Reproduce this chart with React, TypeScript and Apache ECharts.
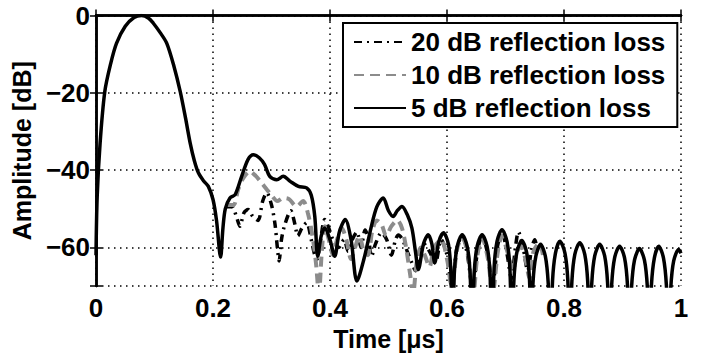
import React, { useEffect, useRef } from "react";
import * as echarts from "echarts";

const legendNames = ["20 dB reflection loss", "10 dB reflection loss", "5 dB reflection loss"];
const xLabel = "Time [μs]";
const yLabel = "Amplitude [dB]";

const loss5dB: [number, number][] = [
  [0, -62], [0.002, -47], [0.007, -33], [0.015, -19.7], [0.025, -12.5], [0.035, -7.2], [0.05, -2.8],
  [0.065, -0.5], [0.078, 0], [0.09, -0.7], [0.098, -2], [0.11, -4.5], [0.121, -7.2], [0.133, -13],
  [0.144, -19.7], [0.153, -26.5], [0.161, -33], [0.168, -37.5], [0.175, -40.7], [0.184, -42.8],
  [0.192, -44.2], [0.2, -47.6], [0.206, -53], [0.213, -62.5], [0.217, -55], [0.221, -50],
  [0.229, -47.2], [0.238, -46.3], [0.249, -41.6], [0.26, -37.2], [0.269, -36], [0.279, -36.8],
  [0.288, -38.5], [0.297, -41.6], [0.309, -42.5], [0.32, -41.6], [0.332, -42.9], [0.346, -44.2],
  [0.36, -44.6], [0.368, -46.5], [0.374, -52], [0.379, -62.3], [0.385, -57], [0.391, -55],
  [0.4, -58], [0.408, -62.3], [0.416, -56], [0.426, -52.8], [0.436, -58], [0.446, -68.7],
  [0.458, -63], [0.47, -55], [0.48, -49.5], [0.491, -47.2], [0.5, -50.5], [0.508, -52],
  [0.515, -50.5], [0.523, -49.4], [0.532, -51.5], [0.54, -55], [0.546, -61], [0.551, -65.7],
  [0.56, -59], [0.568, -56.7], [0.574, -59], [0.579, -64], [0.586, -58.5], [0.594, -56.2],
  [0.6025, -59.2], [0.6065, -66], [0.61, -85],
  [0.6125, -66.7], [0.6175, -59.7], [0.626, -56.7], [0.6345, -59.7], [0.6395, -66.7], [0.643, -85],
  [0.6465, -66.7], [0.6515, -59.7], [0.66, -56.7], [0.6685, -59.7], [0.6735, -66.7], [0.677, -85],
  [0.6805, -65.4], [0.6855, -58.4], [0.694, -55.4], [0.7025, -58.4], [0.7075, -65.4], [0.711, -85],
  [0.7145, -68.2], [0.7195, -61.2], [0.728, -58.2], [0.736, -61.2], [0.741, -68.2], [0.744, -85],
  [0.747, -69.2], [0.752, -62.2], [0.76, -59.2], [0.768, -62.2], [0.773, -69.2], [0.777, -85],
  [0.7805, -68.4], [0.7855, -61.4], [0.793, -58.4], [0.8015, -61.4], [0.8065, -68.4], [0.81, -85],
  [0.8135, -68.8], [0.8185, -61.8], [0.827, -58.8], [0.8355, -61.8], [0.8405, -68.8], [0.844, -85],
  [0.8475, -69.2], [0.8525, -62.2], [0.861, -59.2], [0.8695, -62.2], [0.8745, -69.2], [0.878, -85],
  [0.8815, -69.7], [0.8865, -62.7], [0.895, -59.7], [0.9035, -62.7], [0.9085, -69.7], [0.912, -85],
  [0.9155, -70.3], [0.9205, -63.3], [0.929, -60.3], [0.9375, -63.3], [0.9425, -70.3], [0.946, -85],
  [0.9495, -69.7], [0.9545, -62.7], [0.962, -59.7], [0.97, -62.7], [0.975, -69.7], [0.979, -85],
  [0.9825, -70.5], [0.9875, -63.5], [0.996, -60.5], [1.0, -61.5],
];

const loss10dB: [number, number][] = [
  [0.224, -49], [0.235, -49], [0.243, -45], [0.252, -42], [0.263, -40.3], [0.273, -41.5],
  [0.283, -43.3], [0.292, -45], [0.3, -46.5], [0.31, -48], [0.32, -47.2], [0.33, -47.5],
  [0.343, -49.4], [0.354, -48], [0.362, -51], [0.37, -57], [0.376, -64], [0.381, -72],
  [0.386, -61], [0.391, -54.5], [0.398, -58], [0.405, -62], [0.412, -58], [0.42, -55],
  [0.428, -58], [0.436, -63], [0.443, -60], [0.45, -57], [0.458, -61], [0.465, -62],
  [0.472, -56], [0.48, -53], [0.488, -54], [0.496, -57], [0.505, -54.5], [0.515, -53],
  [0.523, -55], [0.53, -60], [0.537, -67], [0.542, -72], [0.548, -64], [0.555, -60],
  [0.562, -62], [0.57, -65], [0.578, -60], [0.59, -58], [0.6, -63], [0.608, -70],
  [0.618, -60], [0.626, -57.5], [0.636, -62], [0.645, -72], [0.652, -62], [0.66, -57.5],
  [0.67, -63], [0.678, -72], [0.687, -61], [0.694, -57], [0.703, -61], [0.713, -66],
  [0.72, -61], [0.727, -59.7], [0.734, -63], [0.741, -68], [0.748, -61], [0.758, -58.8],
  [0.764, -62],
];

const loss20dB: [number, number][] = [
  [0.222, -49.5], [0.232, -49.4], [0.24, -52], [0.246, -54.5], [0.253, -51], [0.26, -50.2],
  [0.268, -52], [0.277, -53], [0.285, -48], [0.292, -45.9], [0.3, -49], [0.306, -54],
  [0.31, -60], [0.313, -63.5], [0.317, -58], [0.322, -54.5], [0.333, -50.5], [0.34, -54],
  [0.345, -57], [0.352, -55], [0.36, -53.6], [0.368, -58], [0.374, -62], [0.378, -63],
  [0.383, -59], [0.391, -52.8], [0.398, -55], [0.405, -58], [0.415, -60], [0.424, -58],
  [0.431, -61], [0.438, -58], [0.446, -56], [0.453, -60], [0.46, -55.5], [0.466, -58],
  [0.471, -62.3], [0.478, -59], [0.488, -56.2], [0.497, -58], [0.505, -62], [0.512, -58],
  [0.517, -56.8], [0.524, -58], [0.532, -61], [0.54, -64], [0.546, -66], [0.552, -62],
  [0.56, -59], [0.57, -61], [0.58, -64], [0.59, -58], [0.6, -62], [0.608, -70],
  [0.617, -60], [0.626, -57], [0.635, -62], [0.644, -71], [0.652, -61], [0.66, -57],
  [0.67, -62], [0.678, -70], [0.686, -60], [0.694, -56], [0.703, -62], [0.71, -68],
  [0.717, -60], [0.722, -56], [0.73, -60], [0.738, -66], [0.745, -60], [0.75, -58], [0.755, -62],
];

const xRange = [0, 1];
const yRange = [-70, 0];

const FONT = "'Liberation Sans', Arial, Helvetica, sans-serif";

export default function App() {
  const ref = useRef<HTMLDivElement>(null);
  useEffect(() => {
    if (!ref.current) return;
    const chart = echarts.init(ref.current, undefined, { renderer: "svg" });
    const axisLine = { show: true, lineStyle: { color: "#000", width: 2.5 } };
    const tick = { show: true, inside: true, length: 6, lineStyle: { color: "#000", width: 1.5 } };
    const grid = { show: true, lineStyle: { color: "#000", width: 1.5, type: [1.5, 4.5] as any } };
    const labelStyle = { color: "#000", fontFamily: FONT, fontWeight: "bold" as const, fontSize: 26 };
    const fmt = (v: number) => {
      const r = Math.round(v * 10) / 10;
      if (r === -70) return "";
      return String(r).replace("-", "\u2212");
    };
    chart.setOption({
      animation: false,
      backgroundColor: "#fff",
      textStyle: { fontFamily: FONT },
      grid: { left: 96, right: 23, top: 15.5, bottom: 69, containLabel: false },
      legend: {
        data: legendNames,
        orient: "vertical",
        left: 343,
        top: 23,
        itemWidth: 52,
        itemHeight: 14,
        itemGap: 7,
        padding: [6, 12, 6, 10],
        backgroundColor: "#fff",
        borderColor: "#000",
        borderWidth: 2,
        borderRadius: 0,
        itemStyle: { opacity: 0, borderWidth: 0 },
        textStyle: { color: "#000", fontFamily: FONT, fontWeight: "bold", fontSize: 26 },
      },
      xAxis: [
        {
          type: "value", min: xRange[0], max: xRange[1], interval: 0.2,
          axisLine, axisTick: tick, splitLine: grid,
          axisLabel: { ...labelStyle, margin: 9, formatter: fmt },
          name: xLabel, nameLocation: "middle", nameGap: 33,
          nameTextStyle: { ...labelStyle, fontSize: 25 },
        },
        {
          type: "value", position: "top", min: xRange[0], max: xRange[1], interval: 0.2,
          axisLine, axisTick: tick, splitLine: { show: false }, axisLabel: { show: false },
        },
      ],
      yAxis: [
        {
          type: "value", min: yRange[0], max: yRange[1], splitNumber: 4,
          axisLine, axisTick: tick, splitLine: grid,
          axisLabel: { ...labelStyle, margin: 6, formatter: fmt },
          name: yLabel, nameLocation: "middle", nameGap: 54,
          nameTextStyle: { ...labelStyle, fontSize: 25 },
        },
        {
          type: "value", position: "right", min: yRange[0], max: yRange[1], splitNumber: 4,
          axisLine, axisTick: tick, splitLine: { show: false }, axisLabel: { show: false },
        },
      ],
      series: [
        {
          name: legendNames[0], type: "line", data: loss20dB, showSymbol: false, symbol: "none",
          smooth: 0.3, clip: true,
          lineStyle: { color: "#000", width: 3.5, type: [8, 5, 2, 5] },
          itemStyle: { color: "#000" },
        },
        {
          name: legendNames[1], type: "line", data: loss10dB, showSymbol: false, symbol: "none",
          smooth: 0.3, clip: true,
          lineStyle: { color: "#8c8c8c", width: 4, type: [10, 6] },
          itemStyle: { color: "#8c8c8c" },
        },
        {
          name: legendNames[2], type: "line", data: loss5dB, showSymbol: false, symbol: "none",
          smooth: 0.3, clip: true,
          lineStyle: { color: "#000", width: 3.5, type: "solid" },
          itemStyle: { color: "#000" },
        },
      ],
    });
    return () => chart.dispose();
  }, []);
  return (
    <div
      ref={ref}
      style={{ position: "fixed", left: 0, top: 0, width: 704, height: 356, background: "#fff" }}
    />
  );
}
